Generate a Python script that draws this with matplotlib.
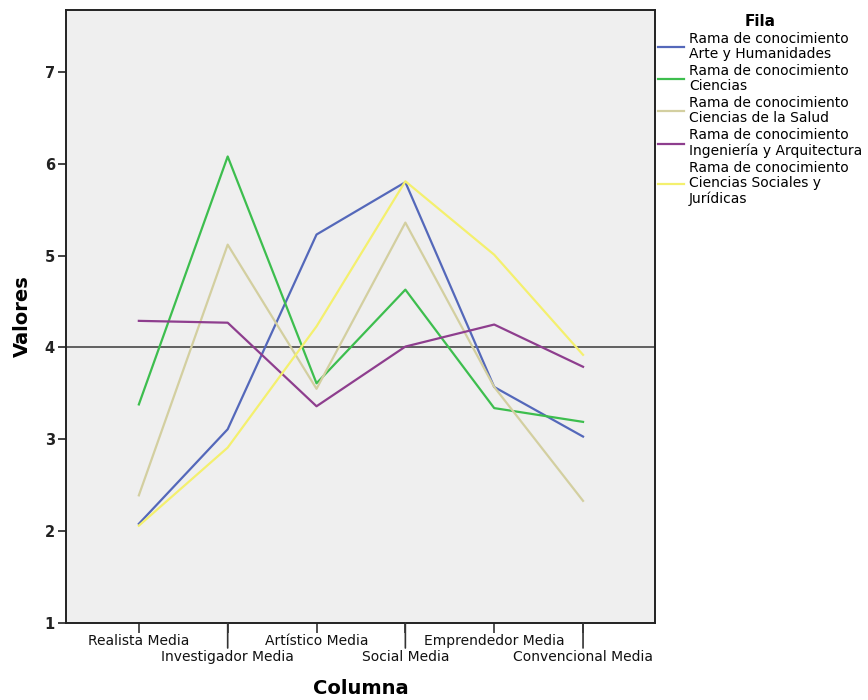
import matplotlib
matplotlib.use("Agg")
import matplotlib.pyplot as plt
import numpy as np

# categories (x) and series values
columnas = ["Realista Media", "Investigador Media", "Artístico Media",
            "Social Media", "Emprendedor Media", "Convencional Media"]

arte_humanidades = [2.08, 3.11, 5.23, 5.80, 3.57, 3.03]
ciencias = [3.38, 6.08, 3.61, 4.63, 3.34, 3.19]
ciencias_salud = [2.39, 5.12, 3.55, 5.36, 3.57, 2.33]
ingenieria_arq = [4.29, 4.27, 3.36, 4.01, 4.25, 3.79]
ciencias_sociales = [2.06, 2.91, 4.23, 5.81, 5.01, 3.92]

series_labels = [
    "Rama de conocimiento\nArte y Humanidades",
    "Rama de conocimiento\nCiencias",
    "Rama de conocimiento\nCiencias de la Salud",
    "Rama de conocimiento\nIngeniería y Arquitectura",
    "Rama de conocimiento\nCiencias Sociales y\nJurídicas",
]
series_colors = ["#5468BA", "#3DBE4E", "#D3CFA0", "#8E3E8E", "#F4F06E"]
referencia = 4.0

plt.rcParams["font.family"] = ["DejaVu Sans"]

W, H = 868, 700
fig = plt.figure(figsize=(W / 100, H / 100), dpi=100)
ax = fig.add_axes([66 / W, 1 - 623 / H, (655 - 66) / W, (623 - 10) / H])
ax.set_facecolor("#EFEFEF")

x = np.arange(len(columnas))
all_series = [arte_humanidades, ciencias, ciencias_salud, ingenieria_arq, ciencias_sociales]
handles = []
for vals, col in zip(all_series, series_colors):
    h, = ax.plot(x, vals, color=col, linewidth=1.6)
    handles.append(h)

ax.axhline(referencia, color="#555555", linewidth=1.3, zorder=1)

ax.set_xlim(-0.82, 5.81)
ax.set_ylim(1, 7.675)
ax.set_yticks(range(1, 8))
ax.tick_params(axis="y", direction="out", length=6, width=1.2, labelsize=10.5,
               colors="#222222", pad=2)
for lab in ax.get_yticklabels():
    lab.set_fontweight("bold")

# staggered category labels, odd ones on a second row with longer ticks
ax.set_xticks(x)
ax.set_xticklabels([])
ax.tick_params(axis="x", direction="out", length=7.2, width=1.2, colors="#333333")
for i, name in enumerate(columnas):
    row = i % 2
    ax.annotate(name, xy=(i, 0), xycoords=("data", "axes fraction"),
                xytext=(0, -13 - 11.5 * row), textcoords="offset points",
                ha="center", va="center", fontsize=10, color="#111111",
                annotation_clip=False)
    if row == 1:
        ax.annotate("", xy=(i, 0), xycoords=("data", "axes fraction"),
                    xytext=(0, -18), textcoords="offset points",
                    arrowprops=dict(arrowstyle="-", color="#333333", lw=1.2,
                                    shrinkA=0, shrinkB=0),
                    annotation_clip=False)

for sp in ax.spines.values():
    sp.set_color("#222222")
    sp.set_linewidth(1.4)

ax.set_ylabel("Valores", fontsize=14, fontweight="bold", va="center")
ax.yaxis.set_label_coords((22 - 66) / 589, 0.5)
ax.set_xlabel("Columna", fontsize=14, fontweight="bold", va="center")
ax.xaxis.set_label_coords(0.5, -(688 - 623) / 613)

leg = ax.legend(handles, series_labels, title="Fila", loc="upper left",
                bbox_to_anchor=(1.0, 0.999), frameon=False, fontsize=10,
                handlelength=1.85, handletextpad=0.35, labelspacing=0.2,
                borderaxespad=0.15, borderpad=0.1)
leg.get_title().set_fontweight("bold")
leg.get_title().set_fontsize(11)
for t in leg.get_texts():
    t.set_linespacing(1.12)

fig.savefig("out.png", dpi=100)
